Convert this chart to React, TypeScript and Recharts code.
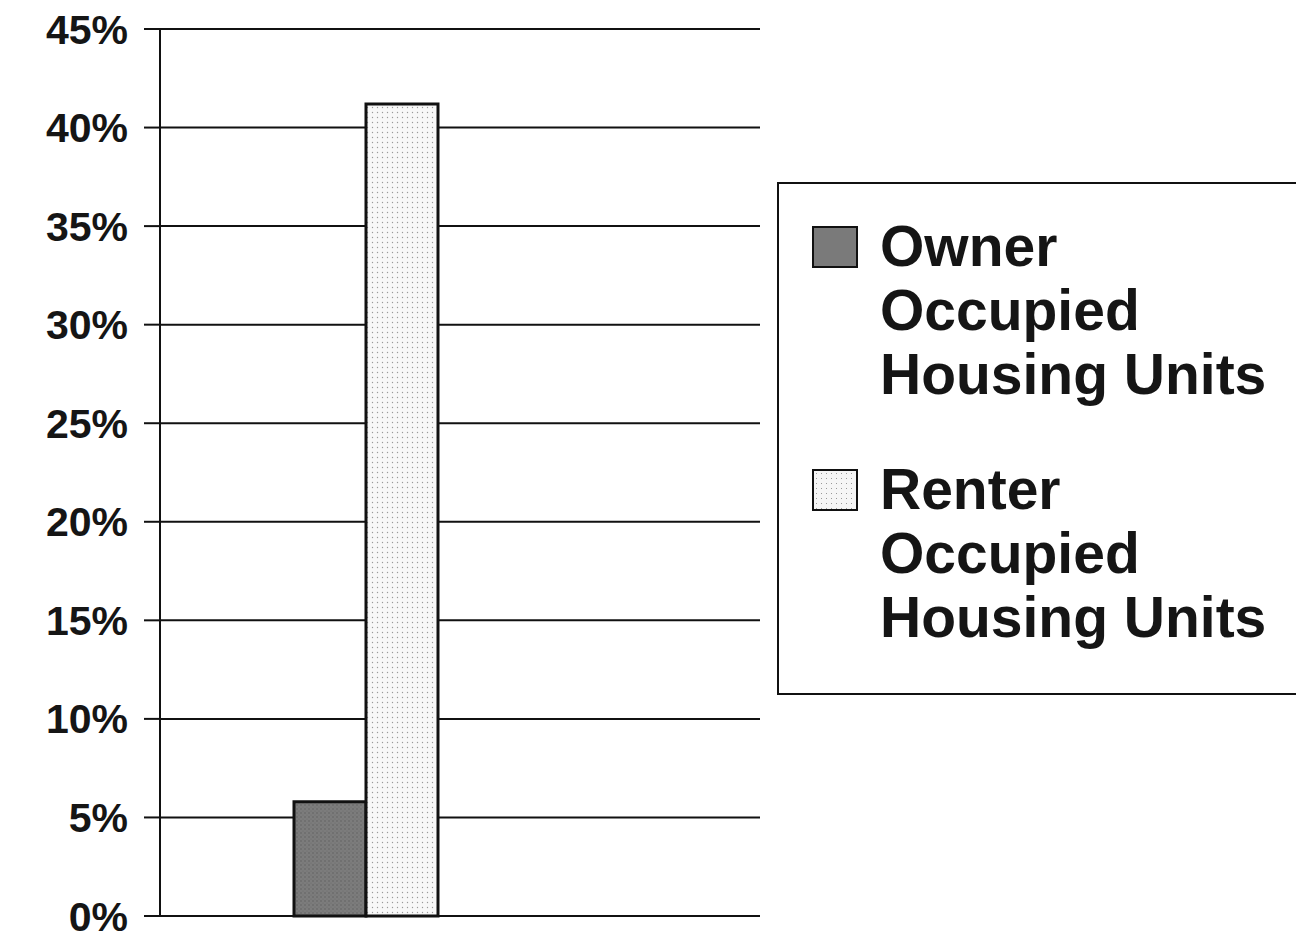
import { BarChart, Bar, XAxis, YAxis, CartesianGrid } from "recharts";

// values (percent of units)
const categories = ["Housing Units"];
const ownerOccupied = [5.8];
const renterOccupied = [41.2];
const yTicks = [0, 5, 10, 15, 20, 25, 30, 35, 40, 45];
const legendItems = [
  { key: "owner", lines: ["Owner", "Occupied", "Housing Units"] },
  { key: "renter", lines: ["Renter", "Occupied", "Housing Units"] },
];

const data = categories.map((name, i) => ({
  name,
  owner: ownerOccupied[i],
  renter: renterOccupied[i],
}));

const font = "'Liberation Sans', Arial, sans-serif";

// legend drawn as a boxed block to the right of the plot
const LegendBox = () => (
  <div
    style={{
      position: "absolute",
      left: 777,
      top: 182,
      width: 519,
      height: 479,
      border: "2px solid #111",
      fontFamily: font,
      fontWeight: "bold",
      fontSize: 57,
      lineHeight: "64px",
      color: "#151515",
      paddingTop: 30,
    }}
  >
    {legendItems.map((it, idx) => (
      <div
        key={it.key}
        style={{ display: "flex", alignItems: "flex-start", marginLeft: 33, marginBottom: idx === 0 ? 51 : 0 }}
      >
        <div
          style={{
            width: 42,
            height: 38,
            marginTop: 12,
            marginRight: 22,
            border: "2px solid #111",
            background:
              it.key === "renter"
                ? "radial-gradient(circle, #999 0.8px, transparent 1px) 0 0 / 5px 5px, #f6f6f6"
                : "#7a7a7a",
          }}
        />
        <div>
          {it.lines.map((l) => (
            <div key={l}>{l}</div>
          ))}
        </div>
      </div>
    ))}
  </div>
);

export default function App() {
  return (
    <div style={{ position: "relative", margin: -8, width: 1304, height: 942, background: "#fff" }}>
      <BarChart
        width={1304}
        height={942}
        data={data}
        margin={{ top: 29, right: 544, bottom: 26, left: 0 }}
        barGap={0}
        barSize={72}
      >
        <defs>
          <pattern id="dots" width="5" height="5" patternUnits="userSpaceOnUse">
            <rect width="5" height="5" fill="#f8f8f8" />
            <circle cx="2.5" cy="2.5" r="0.7" fill="#9a9a9a" />
          </pattern>
          <pattern id="grain" width="4" height="4" patternUnits="userSpaceOnUse">
            <rect width="4" height="4" fill="#7c7c7c" />
            <circle cx="1" cy="1" r="0.7" fill="#5a5a5a" />
            <circle cx="3" cy="3" r="0.6" fill="#6a6a6a" />
          </pattern>
        </defs>
        <CartesianGrid vertical={false} stroke="#111" strokeWidth={2} />
        <XAxis dataKey="name" hide padding={{ left: 0, right: 188 }} />
        <YAxis
          domain={[0, 45]}
          ticks={yTicks}
          interval={0}
          width={160}
          tickFormatter={(v) => `${v}%`}
          tickSize={16}
          tickMargin={16}
          axisLine={{ stroke: "#111", strokeWidth: 2 }}
          tickLine={{ stroke: "#111", strokeWidth: 2 }}
          tick={{ fill: "#151515", fontSize: 41, fontWeight: "bold", fontFamily: font }}
        />
        <Bar dataKey="owner" name="Owner Occupied Housing Units" fill="url(#grain)" stroke="#111" strokeWidth={3} isAnimationActive={false} />
        <Bar dataKey="renter" name="Renter Occupied Housing Units" fill="url(#dots)" stroke="#111" strokeWidth={3} isAnimationActive={false} />
      </BarChart>
      <LegendBox />
    </div>
  );
}
